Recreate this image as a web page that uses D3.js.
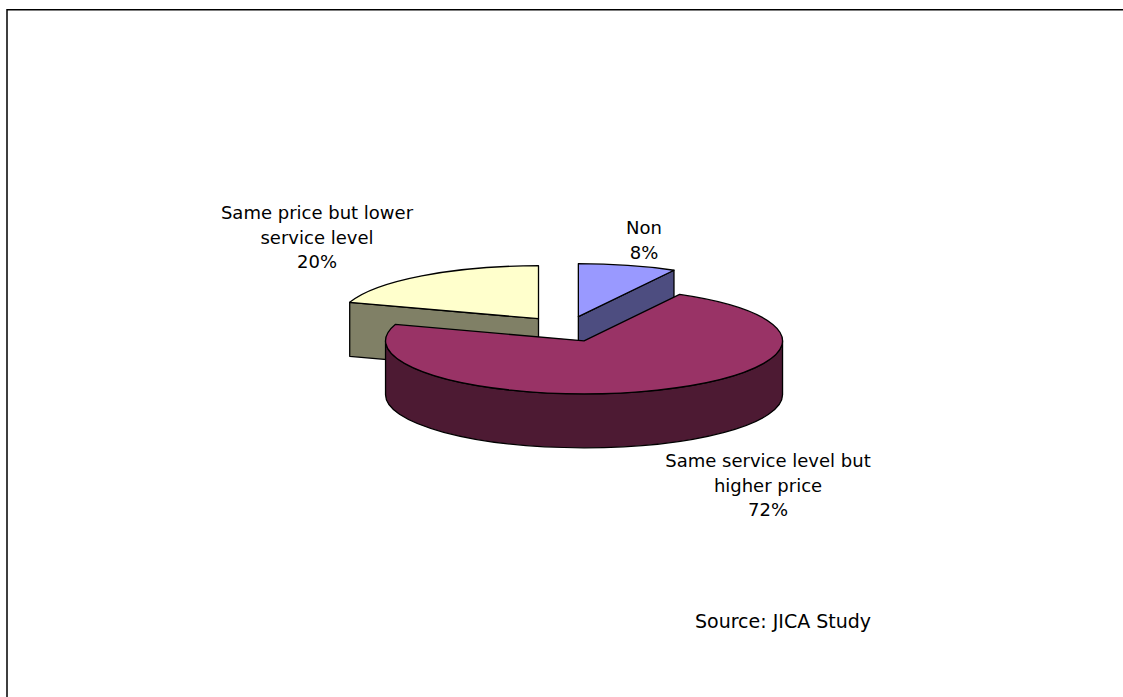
<!DOCTYPE html>
<html>
<head>
<meta charset="utf-8">
<script src="https://cdn.jsdelivr.net/npm/d3@7"></script>
<style>
  html, body { margin: 0; padding: 0; background: #fff; }
  svg { display: block; }
  text { font-family: "DejaVu Sans", sans-serif; font-size: 18px; fill: #000; }
</style>
</head>
<body>
<svg id="chart" width="1123" height="697"></svg>
<script>
// Survey answers (share of respondents, %)
const categories = ["Non", "Same service level but higher price", "Same price but lower service level"];
const values = [8, 72, 20];
// Label text broken into lines as printed next to each slice
const labelLines = [["Non"], ["Same service level but", "higher price"], ["Same price but lower", "service level"]];
const topColors = ["#9999FF", "#993366", "#FFFFCC"];
const sideColors = ["#4D4D80", "#4D1A33", "#808066"];
const sourceNote = "Source: JICA Study";

const W = 1123, H = 697;
const svg = d3.select("#chart");

// Frame
svg.append("path")
  .attr("d", `M7,${H} V9.75 H${W}`)
  .attr("fill", "none").attr("stroke", "#000").attr("stroke-width", 1.5);

// 3D pie geometry (orthographic, tilted disc)
const cx = 566.5, cy = 329, rx = 198.5, ry = 53, depth = 54, explode = 0.24;

const topColor = d3.scaleOrdinal().domain(categories).range(topColors);
const sideColor = d3.scaleOrdinal().domain(categories).range(sideColors);

const arcs = d3.pie().sort(null).value(d => d)(values).map((a, i) => {
  const mid = (a.startAngle + a.endAngle) / 2;
  return {
    ...a, i, name: categories[i],
    ox: explode * rx * Math.sin(mid),
    oy: -explode * ry * Math.cos(mid)
  };
});

const P = (s, t, z) => [cx + s.ox + rx * Math.sin(t), cy + s.oy - ry * Math.cos(t) + z];
const pt = p => `${p[0].toFixed(2)},${p[1].toFixed(2)}`;

function topPath(s) {
  const c = [cx + s.ox, cy + s.oy];
  const p0 = P(s, s.startAngle, 0), p1 = P(s, s.endAngle, 0);
  const large = s.endAngle - s.startAngle > Math.PI ? 1 : 0;
  return `M${pt(c)} L${pt(p0)} A${rx},${ry} 0 ${large} 1 ${pt(p1)} Z`;
}
function wallPath(s, t) {
  const c0 = [cx + s.ox, cy + s.oy], c1 = [c0[0], c0[1] + depth];
  return `M${pt(c0)} L${pt(P(s, t, 0))} L${pt(P(s, t, depth))} L${pt(c1)} Z`;
}
function outerPath(s) {
  const t0 = Math.max(s.startAngle, Math.PI / 2), t1 = Math.min(s.endAngle, 3 * Math.PI / 2);
  if (t1 <= t0) return null;
  const large = t1 - t0 > Math.PI ? 1 : 0;
  return `M${pt(P(s, t0, 0))} A${rx},${ry} 0 ${large} 1 ${pt(P(s, t1, 0))}` +
         ` L${pt(P(s, t1, depth))} A${rx},${ry} 0 ${large} 0 ${pt(P(s, t0, depth))} Z`;
}

const pie = svg.append("g")
  .attr("stroke", "#000").attr("stroke-width", 1.3).attr("stroke-linejoin", "round");

// Paint back slices first
arcs.slice().sort((a, b) => a.oy - b.oy).forEach(s => {
  const g = pie.append("g");
  if (Math.sin(s.startAngle) < -1e-6)
    g.append("path").attr("d", wallPath(s, s.startAngle)).attr("fill", sideColor(s.name));
  if (Math.sin(s.endAngle) > 1e-6)
    g.append("path").attr("d", wallPath(s, s.endAngle)).attr("fill", sideColor(s.name));
  const o = outerPath(s);
  if (o) g.append("path").attr("d", o).attr("fill", sideColor(s.name));
  g.append("path").attr("d", topPath(s)).attr("fill", topColor(s.name));
});

// Data labels: name lines followed by the percentage
const total = d3.sum(values);
const pct = d3.format(".0%");
const labelAnchor = [[644, 234], [768, 467], [317, 219]];
const lineGap = 24.5;
arcs.forEach(s => {
  const lines = labelLines[s.i].concat(pct(s.value / total));
  const t = svg.append("text")
    .attr("x", labelAnchor[s.i][0]).attr("y", labelAnchor[s.i][1])
    .attr("text-anchor", "middle");
  lines.forEach((ln, k) => {
    t.append("tspan").attr("x", labelAnchor[s.i][0]).attr("y", labelAnchor[s.i][1] + k * lineGap).text(ln);
  });
});

svg.append("text").attr("x", 695).attr("y", 628).style("font-size", "19px").text(sourceNote);
</script>
</body>
</html>
